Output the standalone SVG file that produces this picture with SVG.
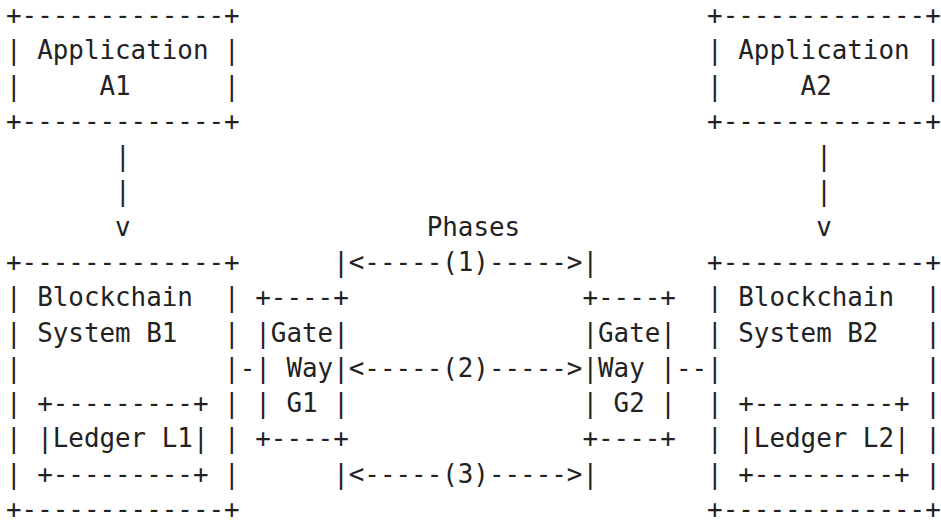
<svg xmlns="http://www.w3.org/2000/svg" width="941" height="525" viewBox="0 0 941 525" xml:space="preserve">
<style>
text{font-family:"DejaVu Sans Mono","Liberation Mono",monospace;font-size:25.88px;fill:#222;white-space:pre}
</style>
<rect width="941" height="525" fill="#fff"/>
<g id="app-a1">
<text x="6" y="24">+-------------+</text>
<text x="6" y="59.28">| Application |</text>
<text x="6" y="94.56">|     A1      |</text>
<text x="6" y="129.84">+-------------+</text>
</g>
<g id="app-a2">
<text x="707.1" y="24">+-------------+</text>
<text x="707.1" y="59.28">| Application |</text>
<text x="707.1" y="94.56">|     A2      |</text>
<text x="707.1" y="129.84">+-------------+</text>
</g>
<g id="blockchain-b1">
<text x="6" y="270.96">+-------------+</text>
<text x="6" y="306.24">| Blockchain  |</text>
<text x="6" y="341.52">| System B1   |</text>
<text x="6" y="376.8">|</text>
<text x="224.12" y="376.8">|</text>
<text x="6" y="412.08">|</text>
<text x="224.12" y="412.08">|</text>
<text x="6" y="447.36">|</text>
<text x="224.12" y="447.36">|</text>
<text x="6" y="482.64">|</text>
<text x="224.12" y="482.64">|</text>
<text x="6" y="517.92">+-------------+</text>
</g>
<g id="ledger-l1">
<text x="37.16" y="412.08">+---------+</text>
<text x="37.16" y="447.36">|Ledger L1|</text>
<text x="37.16" y="482.64">+---------+</text>
</g>
<g id="blockchain-b2">
<text x="707.1" y="270.96">+-------------+</text>
<text x="707.1" y="306.24">| Blockchain  |</text>
<text x="707.1" y="341.52">| System B2   |</text>
<text x="707.1" y="376.8">|</text>
<text x="925.22" y="376.8">|</text>
<text x="707.1" y="412.08">|</text>
<text x="925.22" y="412.08">|</text>
<text x="707.1" y="447.36">|</text>
<text x="925.22" y="447.36">|</text>
<text x="707.1" y="482.64">|</text>
<text x="925.22" y="482.64">|</text>
<text x="707.1" y="517.92">+-------------+</text>
</g>
<g id="ledger-l2">
<text x="738.26" y="412.08">+---------+</text>
<text x="738.26" y="447.36">|Ledger L2|</text>
<text x="738.26" y="482.64">+---------+</text>
</g>
<g id="gateway-g1">
<text x="255.28" y="306.24">+----+</text>
<text x="255.28" y="341.52">|Gate|</text>
<text x="255.28" y="376.8">| Way|</text>
<text x="255.28" y="412.08">| G1 |</text>
<text x="255.28" y="447.36">+----+</text>
</g>
<g id="gateway-g2">
<text x="582.46" y="306.24">+----+</text>
<text x="582.46" y="341.52">|Gate|</text>
<text x="582.46" y="376.8">|Way |</text>
<text x="582.46" y="412.08">| G2 |</text>
<text x="582.46" y="447.36">+----+</text>
</g>
<g id="phases-label">
<text x="426.66" y="235.68">Phases</text>
</g>
<g id="connectors">
<text x="115.06" y="165.12">|</text>
<text x="115.06" y="200.4">|</text>
<text x="115.06" y="235.68">v</text>
<text x="816.16" y="165.12">|</text>
<text x="816.16" y="200.4">|</text>
<text x="816.16" y="235.68">v</text>
<text x="239.7" y="376.8">-</text>
<text x="675.94" y="376.8">--</text>
<text x="333.18" y="270.96">|&lt;-----(1)-----&gt;|</text>
<text x="348.76" y="376.8">&lt;-----(2)-----&gt;</text>
<text x="333.18" y="482.64">|&lt;-----(3)-----&gt;|</text>
</g>
</svg>
